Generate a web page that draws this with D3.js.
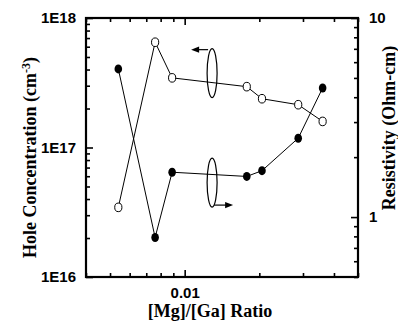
<!DOCTYPE html>
<html>
<head>
<meta charset="utf-8">
<script src="https://cdn.jsdelivr.net/npm/d3@7"></script>
<style>
  body { margin: 0; background: #fff; }
  svg { display: block; }
  .tick text { font-family: "Liberation Sans", Arial, sans-serif; font-weight: bold; font-size: 15px; fill: #000; }
  .title { font-family: "Liberation Serif", "Times New Roman", serif; font-weight: bold; font-size: 18px; fill: #000; }
</style>
</head>
<body>
<div id="chart"></div>
<script>
// [Mg]/[Ga] ratio for each sample
const ratios = [0.0054, 0.0076, 0.0089, 0.0178, 0.0205, 0.0287, 0.036];
// hole concentration (cm^-3), open circles, left axis
const holeConc = [3.45e16, 6.5e17, 3.45e17, 2.95e17, 2.38e17, 2.14e17, 1.59e17];
// resistivity (Ohm-cm), filled circles, right axis
const resistivity = [5.55, 0.79, 1.68, 1.6, 1.71, 2.49, 4.45];

const leftMajor = [1e16, 1e17, 1e18];
const rightMajor = [1, 10];
const xMajor = [0.01];

// Set the dimensions and margins
const svgWidth = 398, svgHeight = 327;
const margin = { top: 18, right: 40, bottom: 50, left: 86 };
const w = svgWidth - margin.left - margin.right;
const h = svgHeight - margin.top - margin.bottom;

const svg = d3.select('#chart').append('svg')
  .attr('width', svgWidth)
  .attr('height', svgHeight);
const g = svg.append('g')
  .attr('transform', 'translate(' + margin.left + ',' + margin.top + ')');

const x = d3.scaleLog().domain([0.004, 0.05]).range([0, w]);
const yL = d3.scaleLog().domain([1e16, 1e18]).range([h, 0]);
const yR = d3.scaleLog().domain([0.5, 10]).range([h, 0]);

// minor tick values for each log decade
function minors(scale) {
  const maj = scale.ticks().filter(v => Math.abs(Math.log10(v) - Math.round(Math.log10(v))) < 1e-9);
  return scale.ticks().filter(v => !maj.some(m => Math.abs(m - v) / v < 1e-9));
}

function styleAxis(sel) {
  sel.select('.domain').remove();
  sel.selectAll('.tick line').attr('stroke', '#000').attr('stroke-width', 1.6);
}

// left axis
g.append('g').call(d3.axisLeft(yL).tickValues(minors(yL)).tickSize(-4).tickFormat('')).call(styleAxis);
g.append('g').call(d3.axisLeft(yL).tickValues(leftMajor).tickSizeInner(-7).tickPadding(10)
  .tickFormat(d => '1E' + Math.round(Math.log10(d)))).call(styleAxis);

// right axis
g.append('g').attr('transform', 'translate(' + w + ',0)')
  .call(d3.axisRight(yR).tickValues(minors(yR)).tickSize(-4).tickFormat('')).call(styleAxis);
g.append('g').attr('transform', 'translate(' + w + ',0)')
  .call(d3.axisRight(yR).tickValues(rightMajor).tickSizeInner(-7).tickPadding(11).tickFormat(d3.format('d'))).call(styleAxis);

// bottom and top axes
const xMinor = minors(x).filter(v => v >= 0.004 && v <= 0.05);
g.append('g').attr('transform', 'translate(0,' + h + ')')
  .call(d3.axisBottom(x).tickValues(xMinor).tickSize(-4).tickFormat('')).call(styleAxis);
g.append('g').attr('transform', 'translate(0,' + h + ')')
  .call(d3.axisBottom(x).tickValues(xMajor).tickSizeInner(-7).tickPadding(10).tickFormat(d => d)).call(styleAxis);
g.append('g')
  .call(d3.axisTop(x).tickValues(xMinor).tickSize(-4).tickFormat('')).call(styleAxis);
g.append('g')
  .call(d3.axisTop(x).tickValues(xMajor).tickSize(-7).tickFormat('')).call(styleAxis);

// frame
g.append('rect').attr('width', w).attr('height', h)
  .attr('fill', 'none').attr('stroke', '#000').attr('stroke-width', 2.2);

// lines
const lineL = d3.line().x((d, i) => x(ratios[i])).y(d => yL(d));
const lineR = d3.line().x((d, i) => x(ratios[i])).y(d => yR(d));
g.append('path').datum(holeConc).attr('d', lineL).attr('fill', 'none').attr('stroke', '#000').attr('stroke-width', 1);
g.append('path').datum(resistivity).attr('d', lineR).attr('fill', 'none').attr('stroke', '#000').attr('stroke-width', 1);

// markers
g.selectAll('.open').data(holeConc).enter().append('ellipse')
  .attr('cx', (d, i) => x(ratios[i])).attr('cy', d => yL(d))
  .attr('rx', 3.6).attr('ry', 4.3)
  .attr('fill', '#fff').attr('stroke', '#000').attr('stroke-width', 1);
g.selectAll('.filled').data(resistivity).enter().append('ellipse')
  .attr('cx', (d, i) => x(ratios[i])).attr('cy', d => yR(d))
  .attr('rx', 3.8).attr('ry', 4.5)
  .attr('fill', '#000');

// ellipse + arrow annotations
const annX = 0.0129;
const topY = yL(3.75e17), botY = yR(1.49);
const ann = g.append('g').attr('fill', 'none').attr('stroke', '#000').attr('stroke-width', 1.2);
ann.append('ellipse').attr('cx', x(annX)).attr('cy', topY).attr('rx', 5).attr('ry', 24.5);
ann.append('ellipse').attr('cx', x(annX)).attr('cy', botY).attr('rx', 5).attr('ry', 24.5);
ann.append('line').attr('x1', x(annX) - 4).attr('x2', x(annX) - 16).attr('y1', topY - 23.5).attr('y2', topY - 23.5);
ann.append('line').attr('x1', x(annX) + 2).attr('x2', x(annX) + 14).attr('y1', botY + 22.5).attr('y2', botY + 22.5);
g.append('path')
  .attr('d', 'M' + (x(annX) - 21) + ',' + (topY - 23.5) + 'l8,-3.2v6.4z').attr('fill', '#000');
g.append('path')
  .attr('d', 'M' + (x(annX) + 21) + ',' + (botY + 22.5) + 'l-8,-3.2v6.4z').attr('fill', '#000');

// axis titles
svg.append('text').attr('class', 'title')
  .attr('transform', 'translate(36,' + (margin.top + h / 2 + 10) + ') rotate(-90)')
  .attr('text-anchor', 'middle')
  .html('Hole Concentration (cm<tspan dy="-6" font-size="12">-3</tspan><tspan dy="6">)</tspan>');
svg.append('text').attr('class', 'title')
  .attr('transform', 'translate(395,' + (margin.top + 110) + ') rotate(-90)')
  .attr('text-anchor', 'middle')
  .text('Resistivity (Ohm-cm)');
svg.append('text').attr('class', 'title')
  .attr('x', margin.left + w / 2 - 12).attr('y', 317)
  .attr('text-anchor', 'middle')
  .text('[Mg]/[Ga] Ratio');
</script>
</body>
</html>
